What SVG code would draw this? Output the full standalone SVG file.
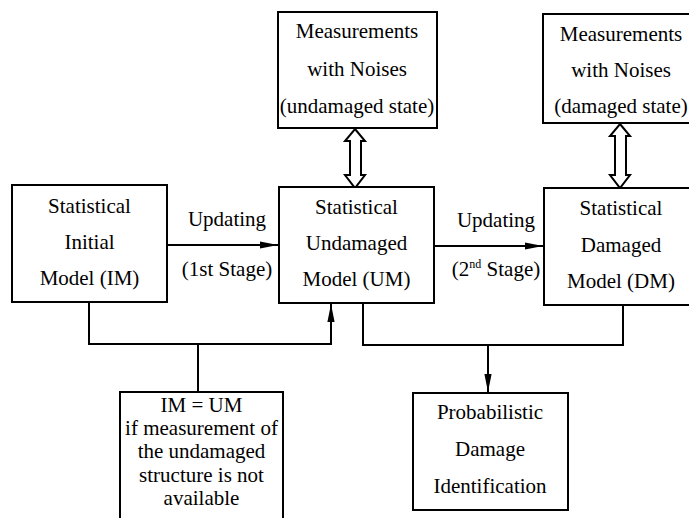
<svg xmlns="http://www.w3.org/2000/svg" width="689" height="518" viewBox="0 0 689 518">
<defs>
<style>
.box{fill:#fff;stroke:#000;stroke-width:2}
.t{font-family:'Liberation Serif','DejaVu Serif',serif;font-size:21px;fill:#000;text-anchor:middle}
.ln{fill:none;stroke:#000;stroke-width:2}
.dbl{fill:#fff;stroke:#000;stroke-width:2;stroke-linejoin:miter}
</style>
<marker id="ah" viewBox="0 0 20 8" refX="20" refY="4" markerWidth="18" markerHeight="8" markerUnits="userSpaceOnUse" orient="auto">
<path d="M0,0 L20,4 L0,8 z" fill="#000"/>
</marker>
</defs>
<rect width="689" height="518" fill="#fff"/>

<g id="connectors">
<line class="ln" x1="167" y1="245" x2="278" y2="245" marker-end="url(#ah)"/>
<line class="ln" x1="434" y1="246" x2="543" y2="246" marker-end="url(#ah)"/>
<polyline class="ln" points="89,302 89,344 331,344 331,304" marker-end="url(#ah)"/>
<line class="ln" x1="198" y1="344" x2="198" y2="392"/>
<polyline class="ln" points="363,303 363,345 623,345 623,305"/>
<line class="ln" x1="488" y1="345" x2="488" y2="392" marker-end="url(#ah)"/>
<path class="dbl" d="M355,129 L365,141 L361,141 L361,175 L365,175 L355,188 L345,175 L350,175 L350,141 L345,141 Z"/>
<path class="dbl" d="M620,124 L630,136 L626,136 L626,175 L630,175 L620,188 L610,175 L615,175 L615,136 L610,136 Z"/>
<g font-family="Liberation Serif, DejaVu Serif, serif">
<text class="t" x="227" y="226">Updating</text>
<text class="t" x="227" y="276">(1st Stage)</text>
<text class="t" x="496" y="227">Updating</text>
<text class="t" x="496" y="276">(2<tspan font-size="12" dy="-8">nd</tspan><tspan dy="8"> Stage)</tspan></text>
</g>
</g>

<g id="im" font-family="Liberation Serif, DejaVu Serif, serif">
<rect class="box" x="12" y="185" width="155" height="117"/>
<text class="t" x="89.5" y="213">Statistical</text>
<text class="t" x="89.5" y="249">Initial</text>
<text class="t" x="89.5" y="285">Model (IM)</text>
</g>

<g id="um">
<rect class="box" x="279" y="187" width="155" height="116"/>
<text class="t" x="356.5" y="214">Statistical</text>
<text class="t" x="356.5" y="250">Undamaged</text>
<text class="t" x="356.5" y="286">Model (UM)</text>
</g>

<g id="dm">
<rect class="box" x="544" y="188" width="155" height="117"/>
<text class="t" x="621" y="215">Statistical</text>
<text class="t" x="621" y="252">Damaged</text>
<text class="t" x="621" y="288">Model (DM)</text>
</g>

<g id="meas-undamaged">
<rect class="box" x="278" y="12" width="159" height="116"/>
<text class="t" x="357" y="38">Measurements</text>
<text class="t" x="357" y="76">with Noises</text>
<text class="t" x="357" y="113">(undamaged state)</text>
</g>

<g id="meas-damaged">
<rect class="box" x="543" y="14" width="156" height="109"/>
<text class="t" x="621" y="41">Measurements</text>
<text class="t" x="621" y="77">with Noises</text>
<text class="t" x="621" y="113">(damaged state)</text>
</g>

<g id="note">
<rect class="box" x="120" y="392" width="163" height="140"/>
<text class="t" x="201.5" y="412">IM = UM</text>
<text class="t" x="201.5" y="435">if measurement of</text>
<text class="t" x="201.5" y="458">the undamaged</text>
<text class="t" x="201.5" y="482">structure is not</text>
<text class="t" x="201.5" y="505">available</text>
</g>

<g id="prob">
<rect class="box" x="413" y="393" width="155" height="117"/>
<text class="t" x="490" y="419">Probabilistic</text>
<text class="t" x="490" y="456">Damage</text>
<text class="t" x="490" y="493">Identification</text>
</g>
</svg>
